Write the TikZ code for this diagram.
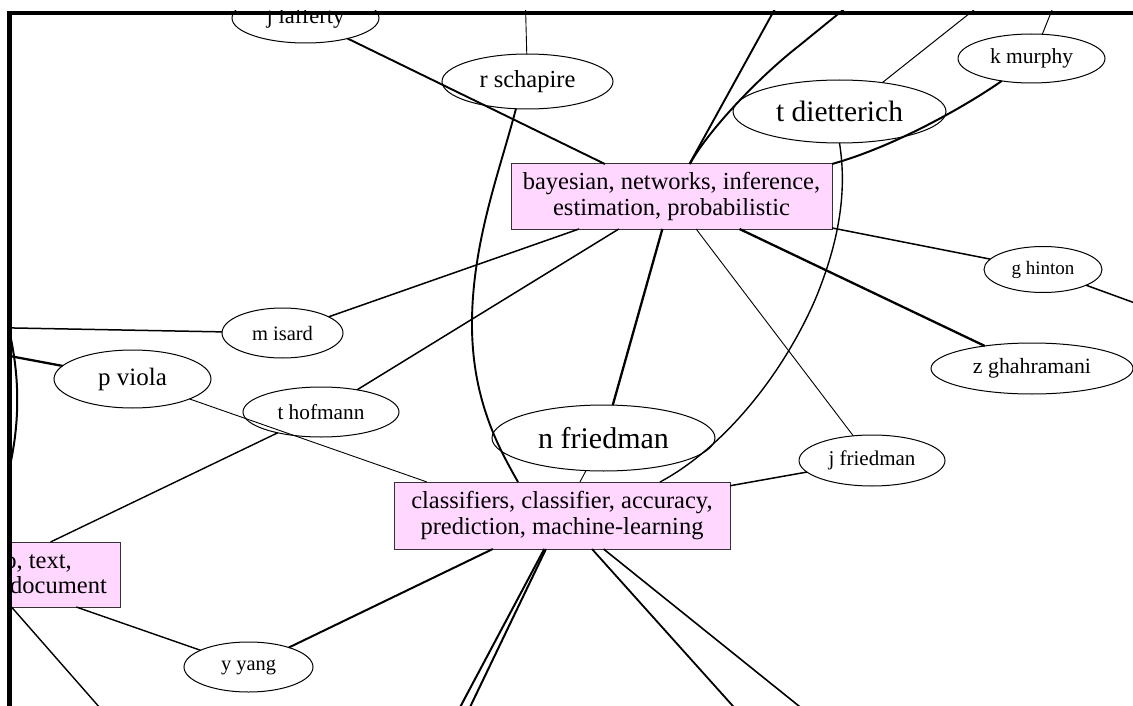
\documentclass[tikz,border=0pt]{standalone}
\usepackage{fontspec}
\setmainfont{Liberation Serif}
\usetikzlibrary{shapes.geometric}
\definecolor{pinkfill}{RGB}{255,215,255}
\newcommand{\fsz}[1]{\fontsize{#1}{#1}\selectfont}
\tikzset{
  ell/.style={draw=black, ellipse, inner sep=0pt, outer sep=0pt, line width=1pt},
  topic/.style={draw=black!80, fill=pinkfill, rectangle, inner sep=0pt, outer sep=0pt,
    line width=1pt, align=center, font={\fontsize{24.5}{26}\selectfont}},
  wthin/.style={line width=0.9pt},
  wmed/.style={line width=1.5pt},
  wthick/.style={line width=2.3pt},
  wbig/.style={line width=1.9pt},
  frame/.style={fill=black}
}
\begin{document}
\begin{tikzpicture}[x=1pt,y=-1pt]
\useasboundingbox (0,0) rectangle (1133,706);
\begin{scope}
\clip (7,11) rectangle (1133,706);
% topic boxes
\node[topic, minimum width=321pt, minimum height=65pt] (bay) at (671.5,196.5) {bayesian, networks, inference,\\estimation, probabilistic};
\node[topic, minimum width=336pt, minimum height=67pt] (cls) at (562,515.5) {classifiers, classifier, accuracy,\\prediction, machine-learning};
\node[topic, minimum width=274pt, minimum height=65pt] (lbox) at (-17,574.5) {};
\node[font=\fsz{24.5}, anchor=base east, inner sep=0pt] (lbt1) at (72,568.5) {o, text,};
\node[font=\fsz{24.5}, anchor=base east, inner sep=0pt] (lbt2) at (107,593.5) {document};
% people
\node[ell, minimum width=147pt, minimum height=50pt, font=\fsz{22.5}] (jlaf) at (305.5,18) {j lafferty};
\node[ell, minimum width=171pt, minimum height=55pt, font=\fsz{24.5}] (rsch) at (527.5,81.5) {r schapire};
\node[ell, minimum width=213pt, minimum height=63pt, font=\fsz{29.5}] (tdiet) at (839.5,111.5) {t dietterich};
\node[ell, minimum width=147pt, minimum height=49pt, font=\fsz{21.5}] (kmur) at (1031.5,58.5) {k murphy};
\node[ell, minimum width=118pt, minimum height=46pt, font=\fsz{19}] (ghin) at (1043,269.5) {g hinton};
\node[ell, minimum width=202pt, minimum height=51pt, font=\fsz{21.8}] (zgh) at (1032,368.5) {z ghahramani};
\node[ell, minimum width=146pt, minimum height=51pt, font=\fsz{21}] (jfri) at (872,460.5) {j friedman};
\node[ell, minimum width=223pt, minimum height=66pt, font=\fsz{30}] (nfri) at (603.5,438) {n friedman};
\node[ell, minimum width=121pt, minimum height=50pt, font=\fsz{20.5}] (misa) at (282.5,333) {m isard};
\node[ell, minimum width=157pt, minimum height=58pt, font=\fsz{25}] (pvio) at (132.5,379) {p viola};
\node[ell, minimum width=156pt, minimum height=50pt, font=\fsz{21.3}] (thof) at (321,412) {t hofmann};
\node[ell, minimum width=129pt, minimum height=50pt, font=\fsz{20.4}] (yyang) at (248.5,667) {y yang};
% free ends
\coordinate (up0) at (524,-50);
\coordinate (up1) at (835,-100);
\coordinate (up2) at (875,-16);
\coordinate (up3) at (1052,-52);
\coordinate (up4) at (1066,-25);
\coordinate (gright) at (1250,345);
\coordinate (ml) at (-200,324);
\coordinate (pl) at (-100,335.5);
\coordinate (la1) at (0,300);
\coordinate (la2) at (0,500);
\coordinate (d1) at (407.5,806);
\coordinate (d2) at (422.5,806);
\coordinate (d3) at (822.6,806);
\coordinate (d4) at (923.3,806);
\coordinate (d5) at (186,806);
\coordinate (rc) at (472,320);
\coordinate (tc) at (815,300);
\coordinate (bc) at (800,45);
% edges
\draw[wbig] (jlaf) -- (bay);
\draw[wthin] (rsch) -- (up0);
\draw[wbig] (rsch.-113) .. controls (500,170) and (473,240) .. (rc)
   .. controls (471,400) and (500,450) .. ([xshift=-44pt]cls.north);
\draw[wbig] (bay) -- (up1);
\draw[wbig] ([xshift=18.5pt]bay.north) .. controls (705,135) and (755,80) .. (bc) -- (up2);
\draw[line width=1pt] (tdiet.34) -- (up3);
\draw[line width=1pt] (kmur.66) -- (up4);
\draw[line width=2pt] (kmur.-143) .. controls (975,100) and (900,145) .. (bay.north east);
\draw[line width=1.4pt] (tdiet.south) .. controls (847,190) and (840,240) .. (tc)
   .. controls (780,380) and (720,450) .. ([xshift=98pt]cls.north);
\draw[wthick] (bay) -- (nfri);
\draw[wthin] (bay) -- (jfri);
\draw[wmed] (bay) -- (ghin);
\draw[wmed] (ghin) -- (gright);
\draw[wthick] (bay) -- (zgh);
\draw[wmed] (bay) -- (misa);
\draw[wmed] (bay) -- (thof);
\draw[wmed] (misa) -- (ml);
\draw[wthick] (pvio) -- (pl);
\draw[line width=2pt] (la1) .. controls (23,365) and (23,435) .. (la2);
\draw[wthin] (pvio) -- ([xshift=-135pt]cls.north);
\draw[line width=1.4pt] (thof) -- (lbox);
\draw[line width=1.4pt] (lbox) -- (yyang);
\draw[line width=1.4pt] (lbox) -- (d5);
\draw[line width=2pt] (yyang) -- (cls);
\draw[wthin] (nfri) -- (cls);
\draw[wmed] (cls) -- (jfri);
\draw[line width=2pt] (cls) -- (d1);
\draw[line width=2pt] (cls) -- (d2);
\draw[line width=1.8pt] (cls) -- (d3);
\draw[line width=1.6pt] (cls) -- (d4);
\end{scope}
% frame
\fill[frame] (7,11) rectangle (1133,15.5);
\fill[frame] (7,11) rectangle (12,706);
\end{tikzpicture}
\end{document}
